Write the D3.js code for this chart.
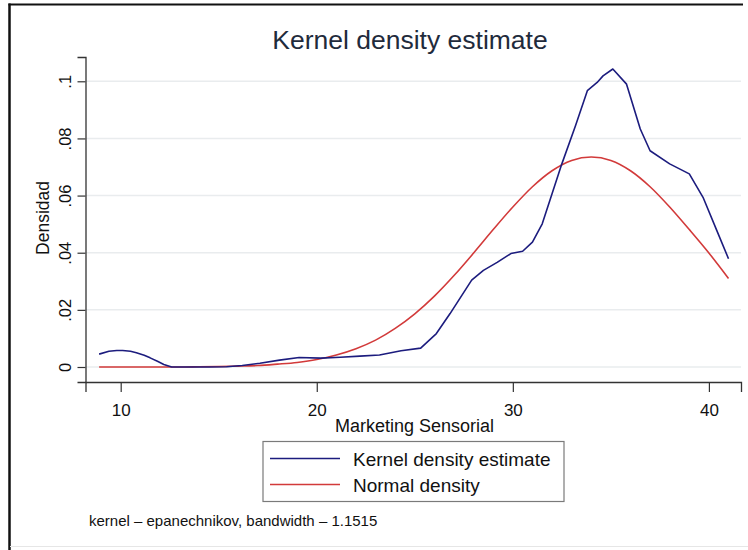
<!DOCTYPE html>
<html>
<head>
<meta charset="utf-8">
<script src="https://cdn.jsdelivr.net/npm/d3@7"></script>
<style>
  html, body { margin: 0; padding: 0; background: #ffffff; }
  svg { display: block; }
  text { font-family: "Liberation Sans", Arial, sans-serif; }
</style>
</head>
<body>
<svg id="chart" width="748" height="550"></svg>
<script>
// Kernel density estimate of "Marketing Sensorial" (evaluation points)
const kernelX = [8.9, 9.4, 9.8, 10.1, 10.5, 10.8, 11.2, 11.5, 11.9, 12.2, 12.6, 13.5, 14.5, 15.4, 16.2, 17.1, 18.1, 19.1,
  20.2, 21.2, 22.2, 23.2, 24.3, 25.3, 26.1, 26.8, 27.9, 28.5, 29.2, 29.9, 30.5, 31.0, 31.5, 32.0,
  32.5, 33.2, 33.8, 34.3, 34.6, 35.1, 35.8, 36.5, 37.0, 38.0, 39.0, 39.7, 40.4, 41.0];
const kernelY = [0.0045, 0.0055, 0.0058, 0.0058, 0.0055, 0.0050, 0.0041, 0.0032, 0.0019, 0.0009, 0, 0, 0, 0.0001, 0.0005, 0.0013, 0.0024, 0.0033,
  0.0031, 0.0034, 0.0038, 0.0042, 0.0057, 0.0066, 0.0117, 0.0187, 0.0304, 0.0338, 0.0366, 0.0397, 0.0405, 0.0437, 0.0501, 0.0606,
  0.0711, 0.0845, 0.0967, 0.0996, 0.1019, 0.1043, 0.0990, 0.0833, 0.0757, 0.0711, 0.0676, 0.0594, 0.0478, 0.0379];

// Normal density overlay
const normalX = [8.9, 10, 11, 12, 13, 14, 15, 16, 17, 18, 19, 20, 21, 22, 23, 24, 25, 26, 27, 28,
  29, 30, 31, 32, 33, 34, 35, 36, 37, 38, 39, 40, 41];
const normalY = [0, 0, 0, 0, 0, 0.0001, 0.0002, 0.0003, 0.0005, 0.0010, 0.0016, 0.0026, 0.0042, 0.0064, 0.0094, 0.0135, 0.0186, 0.0248, 0.0320, 0.0399,
  0.0481, 0.0560, 0.0631, 0.0687, 0.0723, 0.0735, 0.0723, 0.0687, 0.0631, 0.0560, 0.0481, 0.0399, 0.0310];

// Axis ticks
const xTicks = [10, 20, 30, 40];
const yTicks = [0, 0.02, 0.04, 0.06, 0.08, 0.1];
const yTickLabels = ["0", ".02", ".04", ".06", ".08", ".1"];

const titleText = "Kernel density estimate";
const xTitle = "Marketing Sensorial";
const yTitle = "Densidad";
const legendLabels = ["Kernel density estimate", "Normal density"];
const noteText = "kernel \u2013 epanechnikov, bandwidth \u2013 1.1515";

const colKernel = "#1c1c7e";
const colNormal = "#d23a3a";

const svg = d3.select("#chart");

// outer frame
svg.append("line").attr("x1", 9.5).attr("x2", 9.5).attr("y1", 3.5).attr("y2", 550)
  .attr("stroke", "#111").attr("stroke-width", 2.5);
svg.append("line").attr("x1", 8.5).attr("x2", 743).attr("y1", 4.5).attr("y2", 4.5)
  .attr("stroke", "#111").attr("stroke-width", 2);
svg.append("line").attr("x1", 10).attr("x2", 748).attr("y1", 546.5).attr("y2", 546.5)
  .attr("stroke", "#e6e6e6").attr("stroke-width", 1);

// scales
const x = d3.scaleLinear().domain([8.205, 41.637]).range([85.5, 741]);
const y = d3.scaleLinear().domain([-0.00525, 0.1085]).range([382, 57]);

// gridlines
svg.append("g").selectAll("line").data(yTicks).join("line")
  .attr("x1", 86).attr("x2", 741)
  .attr("y1", d => y(d)).attr("y2", d => y(d))
  .attr("stroke", "#e9ecee").attr("stroke-width", 1.5);

// y axis
const yAxis = svg.append("g").attr("transform", "translate(85.5,0)")
  .call(d3.axisLeft(y).tickValues(yTicks).tickSize(8).tickPadding(0)
    .tickFormat((d, i) => yTickLabels[i]));
yAxis.select(".domain").attr("stroke", "#333").attr("stroke-width", 1.3);
yAxis.selectAll(".tick line").attr("stroke", "#333").attr("stroke-width", 1.2);
yAxis.selectAll(".tick text")
  .attr("transform", "translate(-15,0) rotate(-90)")
  .attr("x", 0).attr("y", 0).attr("dy", 0)
  .attr("text-anchor", "middle")
  .attr("font-size", 16.5).attr("fill", "#111");

// x axis
const xAxis = svg.append("g").attr("transform", "translate(0,382)")
  .call(d3.axisBottom(x).tickValues(xTicks).tickSize(10).tickPadding(4)
    .tickFormat(d3.format("d")));
xAxis.select(".domain").attr("stroke", "#333").attr("stroke-width", 1.3);
xAxis.selectAll(".tick line").attr("stroke", "#333").attr("stroke-width", 1.2);
xAxis.selectAll(".tick text").attr("font-size", 17).attr("fill", "#111")
  .attr("y", 0).attr("dy", 0).attr("transform", "translate(0,34)");

// curves
const smooth = d3.line().x(d => x(d[0])).y(d => y(d[1])).curve(d3.curveMonotoneX);
const straight = d3.line().x(d => x(d[0])).y(d => y(d[1]));
svg.append("path").datum(normalX.map((v, i) => [v, normalY[i]]))
  .attr("d", smooth).attr("fill", "none").attr("stroke", colNormal).attr("stroke-width", 1.6);
svg.append("path").datum(kernelX.map((v, i) => [v, kernelY[i]]))
  .attr("d", straight).attr("fill", "none").attr("stroke", colKernel).attr("stroke-width", 1.6)
  .attr("stroke-linejoin", "round");

// titles
svg.append("text").attr("x", 410).attr("y", 48.5).attr("text-anchor", "middle")
  .attr("font-size", 26.5).attr("fill", "#1f2b3c").text(titleText);
svg.append("text").attr("x", 414.5).attr("y", 432).attr("text-anchor", "middle")
  .attr("font-size", 18).attr("fill", "#111").text(xTitle);
svg.append("text").attr("transform", "translate(49,218) rotate(-90)").attr("text-anchor", "middle")
  .attr("font-size", 17.5).attr("fill", "#111").text(yTitle);

// legend
const legend = svg.append("g");
legend.append("rect").attr("x", 263).attr("y", 441.5).attr("width", 301).attr("height", 60)
  .attr("fill", "#fff").attr("stroke", "#7a7a7a").attr("stroke-width", 1.2);
const legendCols = [colKernel, colNormal];
const legendRows = [458.5, 484.5];
legendLabels.forEach((lab, i) => {
  legend.append("line").attr("x1", 270).attr("x2", 340)
    .attr("y1", legendRows[i]).attr("y2", legendRows[i])
    .attr("stroke", legendCols[i]).attr("stroke-width", 1.6);
  legend.append("text").attr("x", 353).attr("y", legendRows[i] + 7)
    .attr("font-size", 19).attr("fill", "#111").text(lab);
});

// note
svg.append("text").attr("x", 89).attr("y", 526).attr("font-size", 15)
  .attr("fill", "#111").text(noteText);
</script>
</body>
</html>
